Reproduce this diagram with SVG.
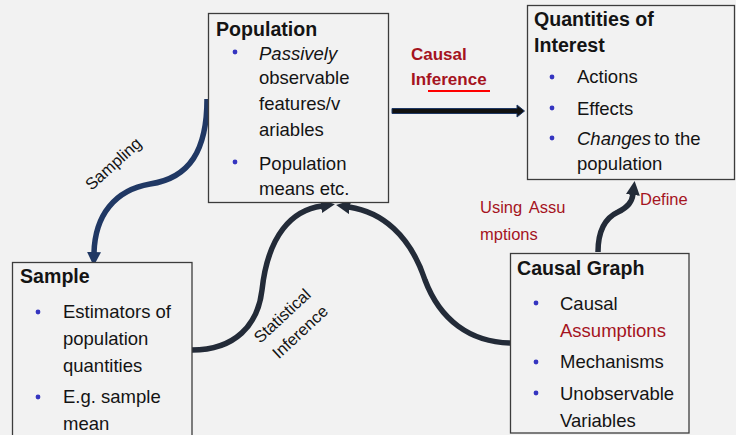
<svg xmlns="http://www.w3.org/2000/svg" width="736" height="435" viewBox="0 0 736 435">
<style>
text{font-family:"Liberation Sans",Arial,sans-serif;fill:#141414}
.hd{font-size:19.6px;font-weight:bold}
.bd{font-size:18.5px}
.red{fill:#a5141e}
.lbl{font-size:16.5px}
.box{fill:#f2f2f2;stroke:#3c3c3c;stroke-width:1.3}
.dot{fill:#3535c0}
.nv{fill:none;stroke:#203864;stroke-width:5.5}
.dk{fill:none;stroke:#232b38;stroke-width:5.5}
</style>
<defs>
<marker id="hnv" viewBox="0 0 14 14" markerWidth="14" markerHeight="14" refX="1" refY="7" orient="auto" markerUnits="userSpaceOnUse"><path d="M0,0 L14,7 L0,14 Z" fill="#203864"/></marker>
<marker id="hdk" viewBox="0 0 14 14" markerWidth="14" markerHeight="14" refX="1" refY="7" orient="auto" markerUnits="userSpaceOnUse"><path d="M0,0 L14,7 L0,14 Z" fill="#232b38"/></marker>
</defs>
<rect width="736" height="435" fill="#f2f2f2"/>

<g id="connectors">
<path class="nv" d="M207,99 C207,150 190,178 150,184 C115,190 95,215 94,253" marker-end="url(#hnv)"/>
<path class="dk" d="M192,350 C235,350 258,325 262,290 C268,235 292,210 322,206" marker-end="url(#hdk)"/>
<path class="dk" d="M510,343 C470,342 440,320 425,280 C410,235 382,212 349,207" marker-end="url(#hdk)"/>
<path class="dk" d="M598,252 C598,230 605,218 618,212 C628,207 632,202 633,194" marker-end="url(#hdk)"/>
<path d="M392,108.5 L517,108.5 L517,105 L524.5,111 L517,117 L517,113.5 L392,113.5 Z" fill="#111" stroke="#1f3864" stroke-width="1"/>
<text class="lbl" transform="translate(117,168) rotate(-42)" text-anchor="middle">Sampling</text>
<text class="lbl" transform="translate(286,320) rotate(-43)" text-anchor="middle">Statistical</text>
<text class="lbl" transform="translate(304,336) rotate(-43)" text-anchor="middle">Inference</text>
<text class="red" x="411" y="60" style="font-size:17px;font-weight:bold">Causal</text>
<text class="red" x="411" y="85" style="font-size:17px;font-weight:bold">Inference</text>
<line x1="428" y1="91" x2="490" y2="91" stroke="#ff0000" stroke-width="2"/>
<text class="red" x="480" y="213" style="font-size:16.5px;word-spacing:3px">Using Assu</text>
<text class="red" x="480" y="240" style="font-size:16.5px">mptions</text>
<text class="red" x="640" y="205" style="font-size:16.5px">Define</text>
</g>

<g id="population">
<rect class="box" x="208.5" y="13.5" width="180" height="189"/>
<text class="hd" x="216" y="36">Population</text>
<circle class="dot" cx="235" cy="52" r="2.4"/>
<text class="bd" x="259" y="60" font-style="italic">Passively</text>
<text class="bd" x="259" y="84">observable</text>
<text class="bd" x="259" y="110">features/v</text>
<text class="bd" x="259" y="136">ariables</text>
<circle class="dot" cx="235" cy="162" r="2.4"/>
<text class="bd" x="259" y="170">Population</text>
<text class="bd" x="259" y="195">means etc.</text>
</g>

<g id="quantities">
<rect class="box" x="527.5" y="5.5" width="207" height="174"/>
<text class="hd" x="534" y="26">Quantities of</text>
<text class="hd" x="534" y="52">Interest</text>
<circle class="dot" cx="552" cy="77" r="2.4"/>
<text class="bd" x="577" y="83">Actions</text>
<circle class="dot" cx="552" cy="108" r="2.4"/>
<text class="bd" x="577" y="115">Effects</text>
<circle class="dot" cx="552" cy="138" r="2.4"/>
<text class="bd" x="577" y="145"><tspan font-style="italic">Changes</tspan><tspan dx="-2"> to the</tspan></text>
<text class="bd" x="577" y="170">population</text>
</g>

<g id="sample">
<rect class="box" x="12.5" y="262.5" width="179.5" height="180"/>
<text class="hd" x="20" y="283">Sample</text>
<circle class="dot" cx="38" cy="312" r="2.4"/>
<text class="bd" x="63" y="318">Estimators of</text>
<text class="bd" x="63" y="345">population</text>
<text class="bd" x="63" y="372">quantities</text>
<circle class="dot" cx="38" cy="397" r="2.4"/>
<text class="bd" x="63" y="403">E.g. sample</text>
<text class="bd" x="63" y="430">mean</text>
</g>

<g id="causal-graph">
<rect class="box" x="510.5" y="253.5" width="178.5" height="179.5"/>
<text class="hd" x="517" y="275">Causal Graph</text>
<circle class="dot" cx="536" cy="303" r="2.4"/>
<text class="bd" x="560" y="310">Causal</text>
<text class="bd red" x="560" y="337">Assumptions</text>
<circle class="dot" cx="536" cy="362" r="2.4"/>
<text class="bd" x="560" y="368">Mechanisms</text>
<circle class="dot" cx="536" cy="393" r="2.4"/>
<text class="bd" x="560" y="400">Unobservable</text>
<text class="bd" x="560" y="427">Variables</text>
</g>
</svg>
